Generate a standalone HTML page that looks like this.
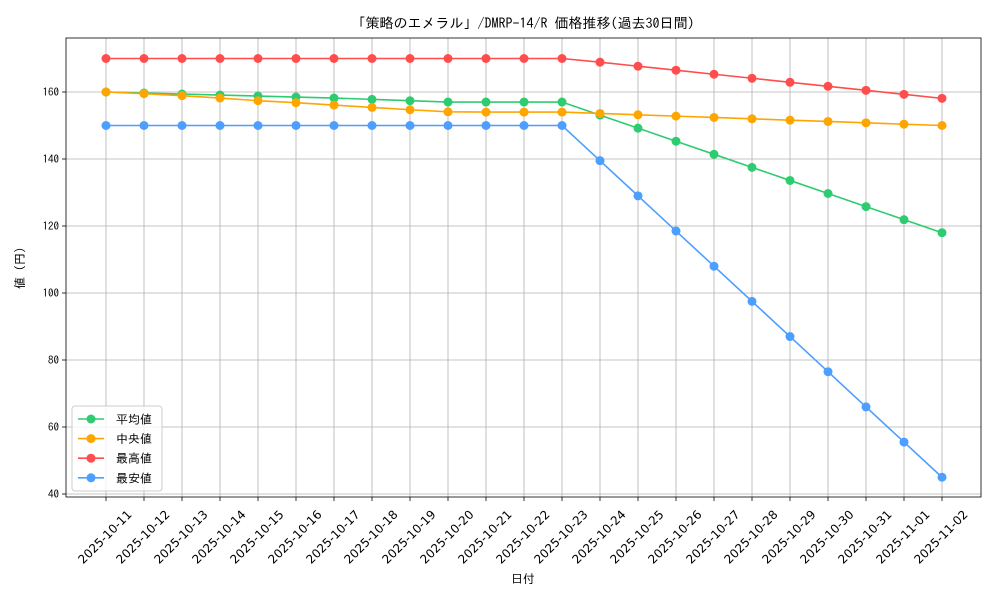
<!DOCTYPE html>
<html><head><meta charset="utf-8">
<style>
html,body{margin:0;padding:0;background:#fff;}
svg{display:block;font-family:"IPAGothic","Noto Sans CJK JP",monospace;}
</style></head>
<body>
<svg id="chart" width="1000" height="600" viewBox="0 0 1000 600"></svg>
<script>
const categories = ["2025-10-11","2025-10-12","2025-10-13","2025-10-14","2025-10-15","2025-10-16","2025-10-17","2025-10-18","2025-10-19","2025-10-20","2025-10-21","2025-10-22","2025-10-23","2025-10-24","2025-10-25","2025-10-26","2025-10-27","2025-10-28","2025-10-29","2025-10-30","2025-10-31","2025-11-01","2025-11-02"];
const avgValues = [160,159.7,159.4,159.1,158.8,158.5,158.2,157.8,157.4,157,157,157,157,153.1,149.2,145.3,141.4,137.5,133.6,129.7,125.8,121.9,118];
const medianValues = [160,159.5,158.9,158.2,157.4,156.8,156.1,155.4,154.7,154.1,154,154,154,153.6,153.2,152.8,152.4,152,151.6,151.2,150.8,150.4,150];
const maxValues = [170,170,170,170,170,170,170,170,170,170,170,170,170,168.9,167.7,166.5,165.3,164.1,162.9,161.7,160.5,159.3,158.1];
const minValues = [150,150,150,150,150,150,150,150,150,150,150,150,150,139.5,129,118.5,108,97.5,87,76.5,66,55.5,45];
const yTicks = [40,60,80,100,120,140,160];
const seriesNames = ["平均値","中央値","最高値","最安値"];

const NS="http://www.w3.org/2000/svg";
const svg=document.getElementById('chart');
function mk(tag,attrs,parent){const e=document.createElementNS(NS,tag);for(const k in attrs)e.setAttribute(k,attrs[k]);(parent||svg).appendChild(e);return e;}
const L=66,R=981,T=38,B=497;
const xS=i=>106+i*(942-106)/(categories.length-1);
const yS=v=>494-(v-40)*(494-92)/120;

categories.forEach((c,i)=>{
  const g=mk('line',{x1:xS(i),x2:xS(i),y1:T,y2:B,stroke:'#b0b0b0','stroke-width':0.8});
  
  
  mk('line',{x1:xS(i),x2:xS(i),y1:B,y2:B+4,stroke:'#000','stroke-width':0.8});
  const cx=xS(i)-1, cy=537;
  const t=mk('text',{x:cx,y:cy+4,'font-size':12,'text-anchor':'middle','font-family':'"DejaVu Sans",sans-serif',transform:`rotate(-45 ${cx} ${cy})`});
  t.textContent=c;
  
  
});
yTicks.forEach(v=>{
  const g=mk('line',{x1:L,x2:R,y1:yS(v),y2:yS(v),stroke:'#b0b0b0','stroke-width':0.8});
  
  
  mk('line',{x1:L-4,x2:L,y1:yS(v),y2:yS(v),stroke:'#000','stroke-width':0.8});
  const t=mk('text',{x:L-7,y:yS(v)+4,'font-size':11,'text-anchor':'end'});
  t.textContent=v;
  
  
});
const frame=mk('rect',{x:L,y:T,width:R-L,height:B-T,fill:'none',stroke:'#000','stroke-width':0.8});



const series=[[avgValues,'#2ecc71'],[medianValues,'#ffa500'],[maxValues,'#ff4d4d'],[minValues,'#4d9fff']];
series.forEach(([vals,col],si)=>{
  const p=mk('polyline',{points:vals.map((v,i)=>xS(i)+','+yS(v)).join(' '),fill:'none',stroke:col,'stroke-width':1.6});
  
  
  vals.forEach((v,i)=>{
    const c=mk('circle',{cx:xS(i),cy:yS(v),r:4.5,fill:col});
    
    
  });
});

const lg=mk('g',{});


mk('rect',{x:72,y:406,width:90,height:85,rx:3,fill:'#fff','fill-opacity':0.8,stroke:'#ccc'},lg);
series.forEach(([v,col],si)=>{
  const y=419+si*19.6;
  const e=mk('g',{},lg);
  
  
  mk('line',{x1:78,x2:104,y1:y,y2:y,stroke:col,'stroke-width':1.6},e);
  mk('circle',{cx:91,cy:y,r:4.5,fill:col},e);
  const t=mk('text',{x:116,y:y+4.5,'font-size':12},e);t.textContent=seriesNames[si];
});

const title=mk('text',{x:523,y:28,'font-size':14,'text-anchor':'middle'});
title.textContent='「策略のエメラル」/DMRP-14/R 価格推移(過去30日間)';


const xt=mk('text',{x:523,y:583,'font-size':12,'text-anchor':'middle'});
xt.textContent='日付';


const yt=mk('text',{x:24,y:268,'font-size':12,'text-anchor':'middle',transform:'rotate(-90 24 268)'});
yt.textContent='値 (円)';


</script>
</body></html>
